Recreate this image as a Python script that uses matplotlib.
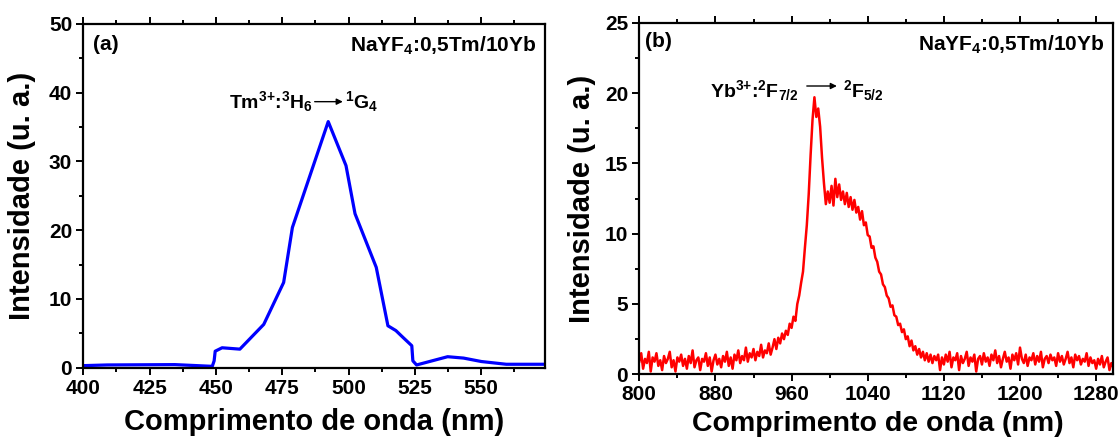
import numpy as np
import matplotlib
matplotlib.use("Agg")
import matplotlib.pyplot as plt
from matplotlib.ticker import MultipleLocator

plt.rcParams['font.family'] = ['Liberation Sans', 'DejaVu Sans']
plt.rcParams['font.weight'] = 'bold'
plt.rcParams['mathtext.fontset'] = 'custom'
plt.rcParams['mathtext.rm'] = 'Liberation Sans:bold'
plt.rcParams['mathtext.it'] = 'Liberation Sans:bold'
plt.rcParams['mathtext.bf'] = 'Liberation Sans:bold'

# (a) Tm3+ emission
wl_a = [400, 409, 434.5, 448.6, 449.3, 449.7, 452.3, 459, 468, 475.5, 478.8,
        492.3, 499, 502.4, 510.4, 514.8, 517.8, 520.5, 523.8, 524.2, 525.6,
        537.3, 543.3, 550, 559.4, 574]
int_a = [0.3, 0.4, 0.45, 0.2, 1.0, 2.4, 2.9, 2.7, 6.3, 12.4, 20.4,
         35.8, 29.4, 22.4, 14.6, 6.1, 5.4, 4.4, 3.2, 1.0, 0.4,
         1.6, 1.4, 0.9, 0.5, 0.5]

# (b) Yb3+ emission, 2 nm steps from 800 nm
start_b = 800
step_b = 2
int_b = (
    # 800-938
    [0.9, 1.5, 0.4, 1.1, 0.8, 1.6, 0.2, 1.2, 0.9, 1.5, 0.6, 1.0, 0.3, 1.3, 0.8, 1.1,
     1.6, 0.5, 1.0, 0.2, 1.2, 0.9, 1.4, 0.6, 1.1, 0.4, 1.3, 0.8, 1.7, 0.5,
     1.0, 1.2, 0.3, 1.1, 0.9, 1.5, 0.6, 1.2, 0.2, 1.0, 1.4, 0.7, 1.1, 0.5, 1.3,
     0.9, 1.6, 0.6, 1.2, 0.4, 1.4, 1.0, 1.7, 0.8, 1.3, 1.0, 1.9, 0.9, 1.5, 1.2,
     1.8, 1.0, 1.6, 1.3, 2.1, 1.2, 1.7, 1.5, 2.2, 1.4]
    # 940-998
    + [1.9, 2.5, 1.8, 2.6, 2.2, 2.9, 2.5, 3.1, 2.8, 3.6, 3.3, 4.1, 3.8, 5.0, 5.6,
       6.5, 7.3, 9.0, 10.6, 12.8, 15.6, 18.1, 19.7, 18.3, 18.9, 17.6, 15.4, 13.6, 12.1, 13.0]
    # 1000-1058
    + [12.2, 13.4, 12.0, 13.9, 12.6, 13.5, 12.4, 13.0, 12.1, 12.9, 11.9, 12.6, 11.7, 12.4, 11.5,
       11.9, 11.0, 11.6, 10.6, 10.8, 9.9, 9.8, 9.0, 9.1, 8.3, 8.0, 7.3, 7.1, 6.4, 6.2]
    # 1060-1118
    + [5.6, 5.4, 4.8, 4.9, 4.2, 4.1, 3.5, 3.6, 3.0, 3.2, 2.5, 2.7, 2.0, 2.4, 1.7,
       2.0, 1.4, 1.8, 1.2, 1.6, 1.0, 1.5, 0.9, 1.4, 0.8, 1.3, 1.0, 1.4, 0.3, 1.2]
    # 1120-1298
    + [0.7, 1.4, 0.9, 1.6, 0.5, 1.2, 1.0, 1.5, 0.3, 1.3, 0.8, 1.1, 1.6, 0.6, 1.2, 0.9, 1.4, 0.2, 1.1, 1.3,
       0.7, 1.5, 0.9, 1.2, 0.6, 1.4, 1.0, 1.7, 0.8, 1.3, 0.5, 1.1, 1.6, 0.9, 1.2, 0.4, 1.4, 1.0, 1.5, 0.7,
       1.9, 1.1, 0.8, 1.4, 0.6, 1.2, 1.0, 1.5, 0.7, 1.3, 0.9, 1.6, 0.5, 1.1, 1.3, 0.8, 1.4, 1.0, 1.2, 0.6,
       1.5, 0.9, 1.3, 0.7, 1.1, 1.6, 0.8, 1.2, 0.5, 1.4, 1.0, 1.3, 0.7, 1.1, 0.9, 1.5, 0.6, 1.2, 0.8, 1.0,
       0.4, 1.1, 0.7, 1.3, 0.5, 0.9, 1.2, 0.3, 0.8, 0.5]
)
wl_b = start_b + step_b * np.arange(len(int_b))

sample = r'NaYF$_4$:0,5Tm/10Yb'
xlabel = 'Comprimento de onda (nm)'
ylabel = 'Intensidade (u. a.)'

fig = plt.figure(figsize=(11.2, 4.41), dpi=100)
ax1 = fig.add_axes([0.0744, 0.1662, 0.4122, 0.7794])
ax2 = fig.add_axes([0.5708, 0.1512, 0.4232, 0.7973])

ax1.plot(wl_a, int_a, color='#0000ff', lw=2.3)
ax2.plot(wl_b, int_b, color='#ff0000', lw=1.8)

ax1.set_xlim(400, 574)
ax1.set_ylim(0, 50)
ax1.xaxis.set_major_locator(MultipleLocator(25))
ax1.xaxis.set_minor_locator(MultipleLocator(12.5))
ax1.yaxis.set_major_locator(MultipleLocator(10))
ax1.yaxis.set_minor_locator(MultipleLocator(5))

ax2.set_xlim(800, 1298)
ax2.set_ylim(0, 25)
ax2.xaxis.set_major_locator(MultipleLocator(80))
ax2.xaxis.set_minor_locator(MultipleLocator(40))
ax2.yaxis.set_major_locator(MultipleLocator(5))
ax2.yaxis.set_minor_locator(MultipleLocator(2.5))

for ax in (ax1, ax2):
    for sp in ax.spines.values():
        sp.set_linewidth(1.6)
    ax.tick_params(which='both', direction='out', width=1.4, labelsize=15,
                   top=True, right=False, labeltop=False, pad=3)
    ax.tick_params(which='major', length=5)
    ax.tick_params(which='minor', length=3)
    ax.set_ylabel(ylabel, fontsize=21, fontweight='bold')
    ax.text(0.982, 0.968, sample, transform=ax.transAxes, ha='right', va='top',
            fontsize=15, fontweight='bold')

ax1.set_xlabel(xlabel, fontsize=21, fontweight='bold')
ax2.set_xlabel(xlabel, fontsize=20.5, fontweight='bold')
ax1.xaxis.set_label_coords(0.5, -0.117)
ax1.yaxis.set_label_coords(-0.102, 0.5)
ax2.xaxis.set_label_coords(0.503, -0.104)
ax2.yaxis.set_label_coords(-0.091, 0.5)

ax1.text(0.02, 0.968, '(a)', transform=ax1.transAxes, ha='left', va='top',
         fontsize=15, fontweight='bold')
ax2.text(0.012, 0.975, '(b)', transform=ax2.transAxes, ha='left', va='top',
         fontsize=15, fontweight='bold')

# transition labels
ax1.text(486.5, 37.8, r'Tm$^{3{+}}$:$^3$H$_6$', ha='right', va='baseline', fontsize=14)
ax1.annotate('', xy=(497.8, 38.7), xytext=(487.2, 38.7),
             arrowprops=dict(arrowstyle='-|>', lw=1.0, color='black', mutation_scale=9,
                             shrinkA=0, shrinkB=0))
ax1.text(498.5, 37.8, r'$^1$G$_4$', ha='left', va='baseline', fontsize=14)

ax2.text(967.2, 19.74, r'Yb$^{3{+}}$:$^2$F$_{7/2}$', ha='right', va='baseline', fontsize=14)
ax2.annotate('', xy=(1007.6, 20.5), xytext=(976, 20.5),
             arrowprops=dict(arrowstyle='-|>', lw=1.0, color='black', mutation_scale=9,
                             shrinkA=0, shrinkB=0))
ax2.text(1014.5, 19.74, r'$^2$F$_{5/2}$', ha='left', va='baseline', fontsize=14)

fig.savefig('out.png', dpi=100)
